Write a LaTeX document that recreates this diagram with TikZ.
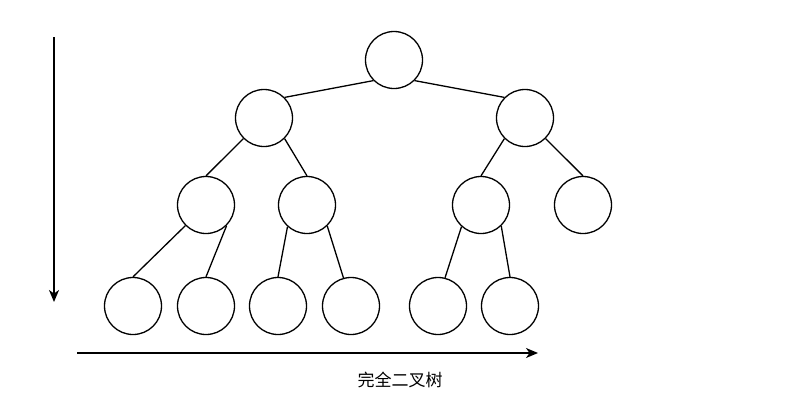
\documentclass[tikz,border=0pt]{standalone}
\usepackage{fontspec}
\newfontfamily\cjk{Noto Sans CJK SC}
\usetikzlibrary{arrows.meta}
\begin{document}
\begin{tikzpicture}[x=1pt,y=-1pt,
  treenode/.style={circle,draw=black,line width=1.3pt,minimum size=57pt,inner sep=0pt},
  branch/.style={draw=black,line width=1.3pt},
  axis/.style={draw=black,line width=1.3pt,-{Stealth[length=12pt,width=10pt,inset=3.5pt]}}]
\useasboundingbox[fill=white] (0,0) rectangle (807,408);

% root and second level
\node[treenode] (r) at (394,60) {};
\node[treenode] (a) at (264,118) {};
\node[treenode] (b) at (525,118) {};
% third level
\node[treenode] (aa) at (206,205) {};
\node[treenode] (ab) at (307,205) {};
\node[treenode] (ba) at (481,205) {};
\node[treenode] (bb) at (583,205) {};
% leaves
\node[treenode] (l1) at (133,306) {};
\node[treenode] (l2) at (206,306) {};
\node[treenode] (l3) at (278,306) {};
\node[treenode] (l4) at (351,306) {};
\node[treenode] (l5) at (438,306) {};
\node[treenode] (l6) at (510,306) {};

% branches
\draw[branch] (r.-135) -- (a.45);
\draw[branch] (r.-45) -- (b.135);
\draw[branch] (a.-135) -- (aa.north);
\draw[branch] (a.-45) -- (ab.north);
\draw[branch] (b.-135) -- (ba.north);
\draw[branch] (b.-45) -- (bb.north);
\draw[branch] (aa.-135) -- (l1.north);
\draw[branch] (aa.-45) -- (l2.north);
\draw[branch] (ab.-132) -- (l3.north);
\draw[branch] (ab.-46) -- (l4.105);
\draw[branch] (ba.-132) -- (l5.76);
\draw[branch] (ba.-46) -- (l6.north);

% axes
\coordinate (vtop) at (54,37);
\coordinate (vbot) at (54,302);
\coordinate (hleft) at (77,353);
\coordinate (hright) at (538,353);
\draw[axis] (vtop) -- (vbot);
\draw[axis] (hleft) -- (hright);

\node[font=\cjk\fontsize{17}{19}\selectfont] (cap) at (400,380) {完全二叉树};
\end{tikzpicture}
\end{document}
